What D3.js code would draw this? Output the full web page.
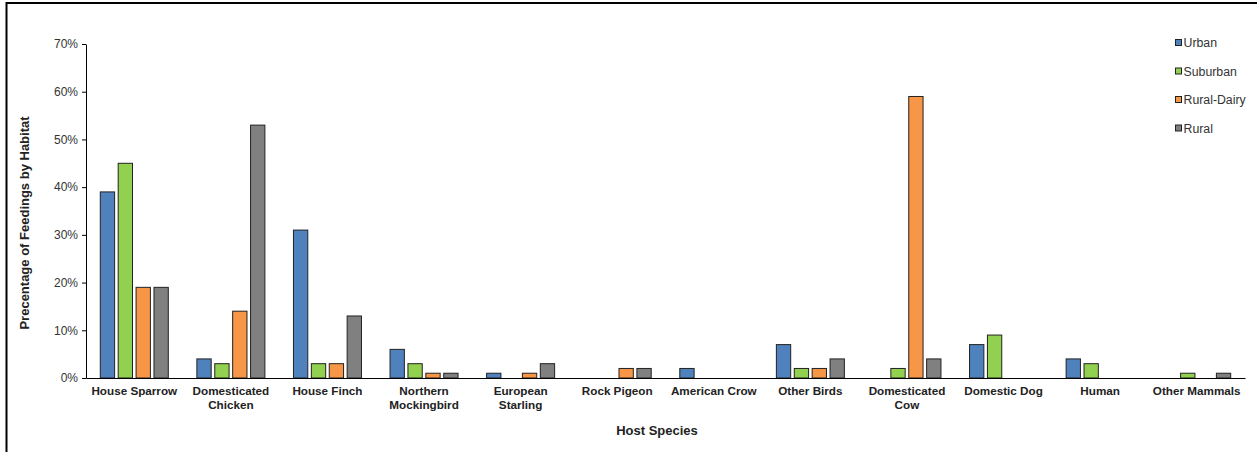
<!DOCTYPE html>
<html>
<head>
<meta charset="utf-8">
<script src="https://cdn.jsdelivr.net/npm/d3@7"></script>
<style>
  html, body { margin: 0; padding: 0; background: #fff; }
  svg text { font-family: "Liberation Sans", Arial, sans-serif; }
</style>
</head>
<body>
<svg id="chart" width="1257" height="452"></svg>
<script>
const categories = [
  ["House Sparrow"], ["Domesticated", "Chicken"], ["House Finch"], ["Northern", "Mockingbird"],
  ["European", "Starling"], ["Rock Pigeon"], ["American Crow"], ["Other Birds"],
  ["Domesticated", "Cow"], ["Domestic Dog"], ["Human"], ["Other Mammals"]
];
const seriesNames = ["Urban", "Suburban", "Rural-Dairy", "Rural"];
const urban      = [39, 4, 31, 6, 1, 0, 2, 7, 0, 7, 4, 0];
const suburban   = [45, 3, 3, 3, 0, 0, 0, 2, 2, 9, 3, 1];
const ruralDairy = [19, 14, 3, 1, 1, 2, 0, 2, 59, 0, 0, 0];
const rural      = [19, 53, 13, 1, 3, 2, 0, 4, 4, 0, 0, 1];
const yTicks = [0, 10, 20, 30, 40, 50, 60, 70];
const colors = ["#4F81BD", "#92D050", "#F79646", "#808080"];

const seriesValues = [urban, suburban, ruralDairy, rural];
const svg = d3.select("#chart");

// frame
svg.append("rect").attr("x", 6.5).attr("y", 3).attr("width", 1300).attr("height", 500)
  .attr("fill", "none").attr("stroke", "#000").attr("stroke-width", 2);

const mLeft = 86, mRight = 1245, mTop = 44, mBottom = 378;
const keys = categories.map((c, i) => i);
const x0 = d3.scaleBand().domain(keys).range([mLeft, mRight]).padding(0);
const x1 = d3.scaleBand().domain(seriesNames).range([0, 68]).paddingInner(0.2).paddingOuter(0);
const y = d3.scaleLinear().domain([0, 70]).range([mBottom, mTop]);

// y axis
const yAxis = d3.axisLeft(y).tickValues(yTicks).tickFormat(d => d + "%").tickSize(4).tickSizeOuter(0);
const gy = svg.append("g").attr("transform", `translate(${mLeft},0)`).call(yAxis);
gy.select(".domain").attr("stroke", "#000");
gy.selectAll(".tick line").attr("stroke", "#000");
gy.selectAll(".tick text").attr("font-size", 12).attr("fill", "#333").attr("x", -8);

// bars
const groups = svg.append("g").selectAll("g").data(keys).join("g")
  .attr("transform", d => `translate(${x0(d) + x0.bandwidth() / 2 - 34},0)`);
groups.selectAll("rect")
  .data(ci => seriesNames.map((s, si) => ({ s, si, v: seriesValues[si][ci] })).filter(d => d.v > 0))
  .join("rect")
  .attr("x", d => x1(d.s))
  .attr("width", x1.bandwidth())
  .attr("y", d => y(d.v))
  .attr("height", d => y(0) - y(d.v))
  .attr("fill", d => colors[d.si])
  .attr("stroke", "#222")
  .attr("stroke-width", 1);

// x axis
const xAxis = d3.axisBottom(x0).tickSize(0).tickFormat("");
const gx = svg.append("g").attr("transform", `translate(0,${mBottom})`).call(xAxis);
gx.select(".domain").attr("stroke", "#000");

// x labels
const xl = svg.append("g").selectAll("text").data(keys).join("text")
  .attr("x", d => x0(d) + x0.bandwidth() / 2)
  .attr("y", 395)
  .attr("text-anchor", "middle")
  .attr("font-size", 11.7).attr("font-weight", "bold").attr("fill", "#222");
xl.selectAll("tspan").data(d => categories[d]).join("tspan")
  .attr("x", function () { return d3.select(this.parentNode).attr("x"); })
  .attr("dy", (d, i) => i === 0 ? 0 : 13.5)
  .text(d => d);

// axis titles
svg.append("text").attr("x", 657).attr("y", 435).attr("text-anchor", "middle")
  .attr("font-size", 13).attr("font-weight", "bold").attr("fill", "#222").text("Host Species");
svg.append("text").attr("transform", "translate(29,223) rotate(-90)").attr("text-anchor", "middle")
  .attr("font-size", 13).attr("font-weight", "bold").attr("fill", "#222").text("Precentage of Feedings by Habitat");

// legend
const lg = svg.append("g").selectAll("g").data(seriesNames).join("g")
  .attr("transform", (d, i) => `translate(1175,${43 + i * 28.5})`);
lg.append("rect").attr("x", 0.5).attr("y", -3.5).attr("width", 6).attr("height", 6)
  .attr("fill", (d, i) => colors[i]).attr("stroke", "#222").attr("stroke-width", 1);
lg.append("text").attr("x", 8.5).attr("y", 4).attr("font-size", 12.3).attr("fill", "#333").text(d => d);
</script>
</body>
</html>
